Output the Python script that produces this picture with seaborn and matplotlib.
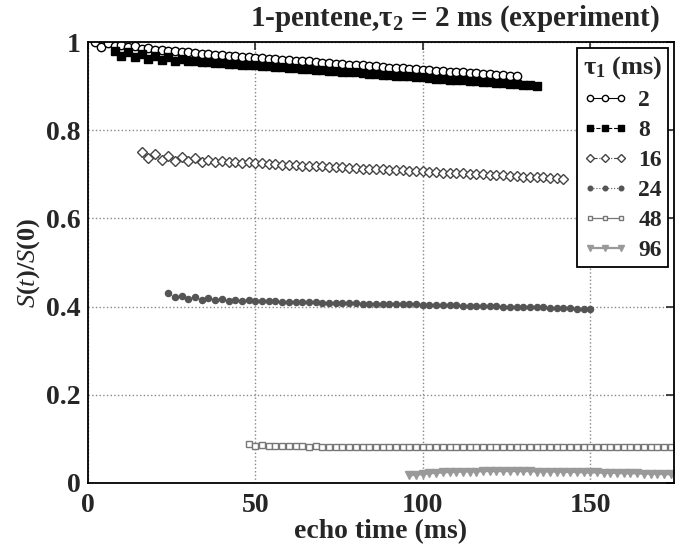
import numpy as np
import pandas as pd
import matplotlib
matplotlib.use("Agg")
import matplotlib.pyplot as plt
import seaborn as sns

# ---------------------------------------------------------------------------
# Data
# ---------------------------------------------------------------------------
TAU2 = 2  # ms, echo spacing
TAU1 = [2, 8, 16, 24, 48, 96]

s_2 = [1.000, 0.989, 0.998, 0.990, 0.994, 0.988, 0.990, 0.985, 0.986, 0.982,
       0.983, 0.980, 0.980, 0.977, 0.977, 0.975, 0.974, 0.972, 0.971, 0.970,
       0.969, 0.968, 0.966, 0.965, 0.964, 0.963, 0.962, 0.961, 0.960, 0.959,
       0.958, 0.957, 0.956, 0.955, 0.953, 0.952, 0.951, 0.950, 0.949, 0.948,
       0.947, 0.946, 0.945, 0.944, 0.942, 0.941, 0.940, 0.939, 0.938, 0.937,
       0.936, 0.935, 0.934, 0.933, 0.932, 0.931, 0.930, 0.929, 0.928, 0.927,
       0.926, 0.925, 0.924, 0.922]
s_8 = [0.980, 0.968, 0.977, 0.965, 0.973, 0.962, 0.969, 0.960, 0.965, 0.958,
       0.961, 0.957, 0.958, 0.955, 0.955, 0.953, 0.953, 0.951, 0.950, 0.949,
       0.948, 0.947, 0.946, 0.945, 0.944, 0.943, 0.942, 0.941, 0.939, 0.938,
       0.937, 0.936, 0.935, 0.934, 0.933, 0.932, 0.931, 0.930, 0.928, 0.927,
       0.926, 0.925, 0.924, 0.923, 0.922, 0.921, 0.920, 0.919, 0.917, 0.916,
       0.915, 0.914, 0.913, 0.912, 0.911, 0.910, 0.909, 0.908, 0.906, 0.905,
       0.904, 0.903, 0.902, 0.900]
s_16 = [0.751, 0.738, 0.746, 0.733, 0.742, 0.731, 0.739, 0.730, 0.736, 0.729,
        0.733, 0.728, 0.731, 0.727, 0.729, 0.726, 0.727, 0.725, 0.725, 0.724,
        0.723, 0.722, 0.722, 0.721, 0.720, 0.719, 0.719, 0.718, 0.717, 0.716,
        0.716, 0.715, 0.714, 0.713, 0.713, 0.712, 0.711, 0.710, 0.710, 0.709,
        0.708, 0.707, 0.707, 0.706, 0.705, 0.704, 0.704, 0.703, 0.702, 0.701,
        0.701, 0.700, 0.699, 0.698, 0.698, 0.697, 0.696, 0.695, 0.695, 0.694,
        0.693, 0.692, 0.691, 0.690]
s_24 = [0.430, 0.422, 0.425, 0.417, 0.421, 0.415, 0.419, 0.414, 0.417, 0.413,
        0.415, 0.413, 0.414, 0.412, 0.413, 0.412, 0.412, 0.411, 0.411, 0.411,
        0.410, 0.410, 0.410, 0.409, 0.409, 0.409, 0.408, 0.408, 0.408, 0.407,
        0.407, 0.407, 0.406, 0.406, 0.406, 0.405, 0.405, 0.405, 0.404, 0.404,
        0.404, 0.403, 0.403, 0.403, 0.402, 0.402, 0.402, 0.401, 0.401, 0.401,
        0.400, 0.400, 0.400, 0.399, 0.399, 0.398, 0.398, 0.397, 0.397, 0.396,
        0.396, 0.395, 0.395, 0.395]
s_48 = [0.088, 0.084, 0.086, 0.083, 0.085, 0.083, 0.084, 0.083, 0.083, 0.082,
        0.083, 0.082, 0.082, 0.082, 0.082, 0.082, 0.082, 0.082, 0.082, 0.082,
        0.082, 0.082, 0.082, 0.082, 0.082, 0.082, 0.082, 0.082, 0.082, 0.082,
        0.082, 0.082, 0.082, 0.082, 0.082, 0.082, 0.082, 0.082, 0.082, 0.082,
        0.082, 0.082, 0.082, 0.082, 0.082, 0.082, 0.082, 0.082, 0.082, 0.082,
        0.082, 0.082, 0.082, 0.082, 0.082, 0.082, 0.082, 0.082, 0.082, 0.082,
        0.082, 0.082, 0.082, 0.082]
s_96 = [0.017, 0.019, 0.020, 0.022, 0.023, 0.024, 0.025, 0.025, 0.026, 0.026,
        0.026, 0.027, 0.027, 0.027, 0.027, 0.027, 0.027, 0.027, 0.027, 0.026,
        0.026, 0.026, 0.026, 0.025, 0.025, 0.025, 0.024, 0.024, 0.024, 0.023,
        0.023, 0.023, 0.022, 0.022, 0.022, 0.021, 0.021, 0.021, 0.020, 0.020]

SERIES = [s_2, s_8, s_16, s_24, s_48, s_96]
LABELS = ['2', '8', '16', '24', '48', '96']

XTICKS = [0, 50, 100, 150]
YTICKS = [0, 0.2, 0.4, 0.6, 0.8, 1.0]
YTICK_LABELS = ['0', '0.2', '0.4', '0.6', '0.8', '1']

# style per series: (marker, linestyle, edge colour, face colour, size, lw)
STYLES = [
    ('o', '-', 'black', 'white', 6.0, 0.8),
    ('s', '--', 'black', 'black', 5.5, 0.8),
    ('D', '-.', '#444444', 'white', 5.3, 0.8),
    ('o', ':', '#555555', '#555555', 4.4, 0.8),
    ('s', '-', '#777777', 'white', 4.6, 0.9),
    ('v', '-', '#999999', '#999999', 5.5, 1.6),
]

# ---------------------------------------------------------------------------
# Plot
# ---------------------------------------------------------------------------
sns.set_style('white')
plt.rcParams['font.family'] = ['Liberation Serif', 'DejaVu Serif']
plt.rcParams['mathtext.fontset'] = 'custom'
plt.rcParams['mathtext.rm'] = 'Liberation Serif:bold'
plt.rcParams['mathtext.it'] = 'Liberation Serif:italic'
plt.rcParams['mathtext.bf'] = 'Liberation Serif:bold'

frames = []
for tau1, vals, lab in zip(TAU1, SERIES, LABELS):
    frames.append(pd.DataFrame({
        'echo': tau1 + TAU2 * np.arange(len(vals)),
        'signal': vals,
        'tau1': lab,
    }))
df = pd.concat(frames, ignore_index=True)

fig = plt.figure(figsize=(6.87, 5.46), dpi=100)
ax = fig.add_axes([0.128, 0.1154, 0.853, 0.8076])

for lab, (mk, ls, ec, fc, ms, lw) in zip(LABELS, STYLES):
    sub = df[df['tau1'] == lab]
    sns.lineplot(data=sub, x='echo', y='signal', ax=ax, label=lab,
                 color=ec, linestyle=ls, linewidth=lw, marker=mk,
                 markersize=ms, markeredgecolor=ec, markerfacecolor=fc,
                 markeredgewidth=1.0, estimator=None, sort=False)

ax.set_xlim(0, 175)
ax.set_ylim(0, 1)
ax.set_xticks(XTICKS)
ax.set_yticks(YTICKS)
ax.set_yticklabels(YTICK_LABELS)
ax.tick_params(direction='in', length=6, width=1.2, top=True, right=True,
               labelsize=20)
ax.tick_params(axis='x', pad=7)
ax.tick_params(axis='y', pad=5)
for lbl in ax.get_xticklabels() + ax.get_yticklabels():
    lbl.set_fontweight('bold')
ax.grid(True, linestyle=':', color='#888888', linewidth=1.0)
for sp in ax.spines.values():
    sp.set_color('black')
    sp.set_linewidth(1.3)

ax.set_xlabel('echo time (ms)', fontsize=20, fontweight='bold', labelpad=1)
ax.set_ylabel('$S(t)/S(0)$', fontsize=19, labelpad=3)
ax.yaxis.label.set_fontweight('normal')
ax.set_title('1-pentene,τ$_2$ = 2 ms (experiment)', fontsize=21,
             fontweight='bold', pad=12, x=0.626)

leg = ax.legend(title='τ$_1$ (ms)', loc='upper right',
                bbox_to_anchor=(0.99, 0.986), borderaxespad=0,
                fancybox=False, edgecolor='black', framealpha=1,
                numpoints=3, handlelength=1.9, handletextpad=0.45,
                labelspacing=0.36, borderpad=0.25, markerscale=0.75,
                prop={'size': 17, 'weight': 'bold'},
                title_fontproperties={'size': 19, 'weight': 'bold'})
leg.get_frame().set_linewidth(1.3)
leg._legend_box.align = 'left'

fig.savefig('out.png', dpi=100)
